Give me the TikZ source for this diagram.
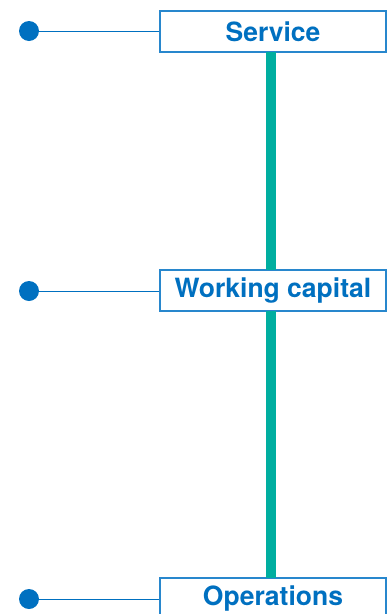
\documentclass[tikz,border=0pt]{standalone}
\usepackage{fontspec}
\setmainfont{TeX Gyre Heros}
\definecolor{tblue}{RGB}{0,112,192}
\definecolor{bblue}{RGB}{40,135,205}
\definecolor{teal1}{RGB}{0,174,160}
\begin{document}
\begin{tikzpicture}[x=1pt,y=-1pt,
  lbox/.style={draw=bblue,line width=1.4pt,fill=white,minimum width=226pt,minimum height=41pt,inner sep=0pt,
    font=\fontsize{26.5}{30}\selectfont\bfseries,text=tblue},
  dot/.style={circle,fill=tblue,minimum size=20pt,inner sep=0pt},
  link/.style={draw=tblue,line width=1pt},
  spine/.style={draw=teal1,line width=10pt}]
\useasboundingbox (0,0) rectangle (391,614);
\node[lbox] (s) at (273,31.5) {Service};
\node[lbox] (w) at (273,290.5) {Working capital};
\node[lbox] (o) at (273,598.5) {Operations};
\node[dot] (ds) at (29,31) {};
\node[dot] (dw) at (29,291) {};
\node[dot] (do) at (29,599) {};
\draw[spine] (271,52) -- (271,270);
\draw[spine] (271,311) -- (271,578);
\draw[link] (ds) -- (s.west|-ds);
\draw[link] (dw) -- (w.west|-dw);
\draw[link] (do) -- (o.west|-do);
\end{tikzpicture}
\end{document}
